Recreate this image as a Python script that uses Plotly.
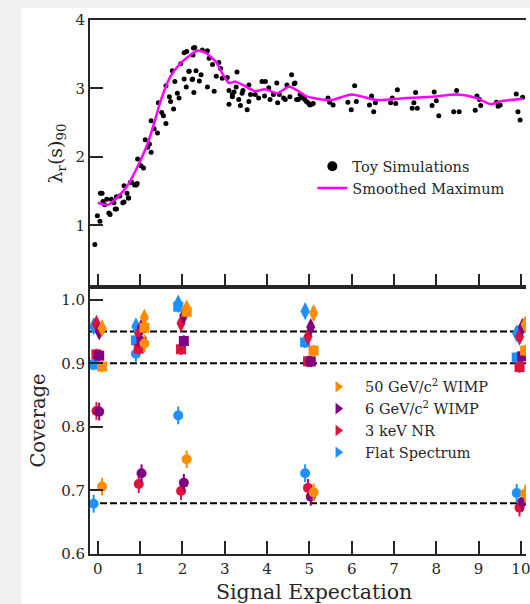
import plotly.graph_objects as go
from plotly.subplots import make_subplots

# ---------------- upper panel: toy simulations and smoothed maximum ----------------
toy_x = [
    -0.07, -0.01, 0.05, 0.10, 0.12, 0.16, 0.26, 0.32, 0.38, 0.44, 0.52, 0.59, 0.62, 0.69,
    0.73, 0.77, 0.87, 0.93, 0.94, 1.02, 1.08, 1.12, 1.18, 1.22, 1.26, 1.26, 1.33, 1.41,
    1.43, 1.51, 1.55, 1.61, 1.61, 1.69, 1.72, 1.76, 1.79, 1.82, 1.88, 1.92, 1.96, 2.04,
    2.09, 2.10, 2.15, 2.23, 2.27, 2.25, 2.29, 2.04, 2.16, 2.24, 2.26, 2.32, 2.40, 2.44,
    2.47, 2.59, 2.59, 2.63, 2.71, 2.75, 2.80, 2.86, 2.90, 2.94, 3.06, 3.10, 3.10, 3.18,
    3.22, 3.27, 3.29, 3.33, 3.37, 3.43, 3.53, 3.57, 3.61, 3.72, 3.80, 3.88, 3.18, 3.41,
    3.57, 3.94, 4.07, 4.15, 4.23, 4.25, 4.39, 4.43, 4.47, 4.54, 4.58, 4.66, 4.70, 4.78,
    4.86, 4.93, 3.96, 4.04, 4.29, 4.64, 4.74, 5.01, 5.09, 0.06, 0.21, 0.29, 0.41, 0.44,
    0.62, 0.72, 0.80, 0.91, 4.82, 4.89, 4.97, 5.05, 5.44, 5.48, 5.56, 5.91, 5.99, 6.07,
    6.11, 6.42, 6.47, 6.52, 6.56, 6.92, 6.96, 7.04, 7.08, 7.43, 7.47, 7.51, 7.55, 7.90,
    7.95, 8.00, 8.06, 8.41, 8.48, 8.54, 8.92, 8.96, 9.02, 9.05, 9.42, 9.46, 9.51, 9.89,
    9.93, 9.98, 10.04,
]
toy_y = [
    0.72, 1.14, 1.06, 1.47, 1.35, 1.30, 1.18, 1.38, 1.33, 1.24, 1.43, 1.33, 1.58, 1.47,
    1.40, 1.63, 1.59, 1.61, 1.97, 1.87, 1.84, 2.25, 2.14, 2.19, 2.07, 2.53, 2.41, 2.35,
    2.79, 2.65, 2.60, 2.49, 3.04, 2.88, 2.81, 3.26, 2.70, 3.10, 2.93, 2.86, 3.36, 3.14,
    3.02, 3.54, 3.25, 3.13, 2.94, 3.49, 3.60, 3.52, 3.25, 3.14, 3.59, 3.26, 3.11, 3.20,
    3.56, 3.55, 3.02, 3.44, 3.35, 2.96, 3.18, 3.38, 3.29, 3.15, 3.16, 2.97, 2.77, 2.91,
    2.95, 3.02, 3.24, 2.84, 2.75, 2.97, 2.69, 2.81, 2.91, 2.91, 2.86, 3.10, 2.88, 2.93,
    3.05, 2.89, 2.84, 2.91, 3.08, 2.79, 2.86, 2.84, 3.05, 2.88, 3.20, 3.08, 2.84, 2.91,
    2.86, 2.81, 3.10, 3.01, 2.91, 3.07, 2.84, 2.76, 2.78, 1.47, 1.38, 1.16, 1.24, 1.42,
    1.34, 1.40, 1.63, 1.59, 2.87, 2.84, 2.79, 2.77, 2.86, 2.80, 2.76, 2.80, 2.69, 3.04,
    2.81, 2.76, 2.89, 2.66, 2.79, 2.79, 2.86, 2.78, 2.98, 2.71, 2.79, 2.94, 2.71, 2.75,
    2.95, 2.82, 2.60, 2.66, 2.97, 2.66, 2.68, 2.89, 2.84, 2.75, 2.80, 2.74, 2.76, 2.92,
    2.66, 2.54, 2.87,
]

smooth_x = [0.0, 0.24, 0.48, 0.71, 0.94, 1.18, 1.33, 1.49, 1.72, 1.96, 2.19, 2.35, 2.55,
            2.79, 2.94, 3.10, 3.25, 3.49, 3.72, 3.95, 4.25, 4.52, 4.74, 4.95, 5.5, 6.0,
            6.6, 7.3, 7.9, 8.5, 8.95, 9.3, 9.5, 10.05]
smooth_y = [1.33, 1.30, 1.42, 1.59, 1.86, 2.20, 2.49, 2.83, 3.18, 3.37, 3.49, 3.555, 3.52,
            3.39, 3.22, 3.08, 3.10, 3.03, 2.96, 2.99, 2.93, 3.03, 2.96, 2.88, 2.83, 2.91,
            2.83, 2.86, 2.88, 2.91, 2.86, 2.77, 2.81, 2.85]

# ---------------- lower panel: coverage per spectrum ----------------
signal_expectation = [0, 1, 2, 5, 10]

flat_cov95 = [0.958, 0.958, 0.994, 0.982, 0.947]
flat_cov90 = [0.898, 0.936, 0.989, 0.933, 0.909]
flat_cov68 = [0.679, 0.915, 0.818, 0.727, 0.696]

nr3kev_cov95 = [0.962, 0.947, 0.963, 0.942, 0.942]
nr3kev_cov90 = [0.914, 0.923, 0.922, 0.903, 0.894]
nr3kev_cov68 = [0.825, 0.710, 0.699, 0.704, 0.673]

wimp6_cov95 = [0.950, 0.957, 0.975, 0.957, 0.957]
wimp6_cov90 = [0.912, 0.934, 0.935, 0.903, 0.911]
wimp6_cov68 = [0.824, 0.727, 0.712, 0.690, 0.682]

wimp50_cov95 = [0.955, 0.972, 0.986, 0.979, 0.961]
wimp50_cov90 = [0.895, 0.956, 0.981, 0.920, 0.920]
wimp50_cov68 = [0.706, 0.931, 0.749, 0.697, 0.695]

err95, err90, err68 = 0.007, 0.009, 0.014
target_levels = [0.95, 0.90, 0.68]

legend_names = ["50 GeV/c<sup>2</sup> WIMP", "6 GeV/c<sup>2</sup> WIMP", "3 keV NR", "Flat Spectrum"]

X_RANGE = [-0.185, 10.12]
FONT = "DejaVu Serif"
INK = "#262626"

fig = make_subplots(rows=2, cols=1, shared_xaxes=False, vertical_spacing=0.0)

# upper panel
fig.add_trace(go.Scatter(
    x=toy_x, y=toy_y, mode="markers", name="Toy Simulations", showlegend=False,
    marker=dict(color="black", size=5, line=dict(width=0))), row=1, col=1)
# legend entry with a larger dot than the data markers
fig.add_trace(go.Scatter(
    x=[None], y=[None], mode="markers", name="Toy Simulations",
    marker=dict(color="black", size=10, line=dict(width=0)),
    legend="legend", legendgroup="toy"), row=1, col=1)
fig.add_trace(go.Scatter(
    x=smooth_x, y=smooth_y, mode="lines", name="Smoothed Maximum",
    line=dict(color="#ff00ff", width=2.5, shape="spline", smoothing=0.6),
    legend="legend", legendgroup="smooth"), row=1, col=1)

# lower panel: drawn back to front so orange sits on top
series = [
    ("#1e90ff", -0.1, flat_cov95, flat_cov90, flat_cov68),
    ("#dc143c", -0.033, nr3kev_cov95, nr3kev_cov90, nr3kev_cov68),
    ("#800080", 0.033, wimp6_cov95, wimp6_cov90, wimp6_cov68),
    ("#ff8c00", 0.1, wimp50_cov95, wimp50_cov90, wimp50_cov68),
]
for color, dx, c95, c90, c68 in series:
    xs = [s + dx for s in signal_expectation]
    for vals, sym, size, err in [(c68, "circle", 10, err68),
                                 (c90, "square", 10, err90),
                                 (c95, "diamond-tall", 13, err95)]:
        fig.add_trace(go.Scatter(
            x=xs, y=vals, mode="markers", showlegend=False,
            marker=dict(color=color, symbol=sym, size=size, line=dict(width=0)),
            error_y=dict(type="constant", value=err, color=color, thickness=2, width=0),
        ), row=2, col=1)

legend_colors = ["#ff8c00", "#800080", "#dc143c", "#1e90ff"]
for name, color in zip(legend_names, legend_colors):
    fig.add_trace(go.Scatter(
        x=[None], y=[None], mode="markers", name=name,
        marker=dict(color=color, symbol="triangle-right", size=10),
        legend="legend2", legendgroup=name), row=2, col=1)

# reference coverage levels
for lvl in target_levels:
    fig.add_shape(type="line", xref="x2", yref="y2", x0=X_RANGE[0], x1=X_RANGE[1],
                  y0=lvl, y1=lvl, layer="below",
                  line=dict(color="black", width=2, dash="7px,3px"))

# white figure card on the grey page
fig.add_shape(type="rect", xref="paper", yref="paper",
              x0=(21 - 90) / 440, x1=1.05, y0=-50 / 534 - 0.01, y1=1 + 12 / 534,
              fillcolor="white", line=dict(width=0), layer="below")

# x-axis title, centred on the full (wider) axes box
fig.add_annotation(text="Signal Expectation", xref="paper", yref="paper",
                   x=0.514, y=-0.072, xanchor="center", yanchor="middle",
                   showarrow=False, font=dict(family=FONT, size=20.5, color=INK))

axis_common = dict(showline=True, linecolor=INK, linewidth=2, ticks="inside",
                   ticklen=13, tickwidth=2, tickcolor=INK, showgrid=False,
                   zeroline=False, tickfont=dict(family=FONT, size=15, color=INK))

fig.update_xaxes(range=X_RANGE, dtick=1, tick0=0, mirror=True,
                 ticklabeloverflow="allow", **axis_common)
fig.update_xaxes(showticklabels=False, row=1, col=1)
fig.update_yaxes(mirror=False, **axis_common)
fig.update_yaxes(range=[0.1, 4.0], tickvals=[1, 2, 3, 4],
                 title=dict(text="λ<sub>r</sub>(s)<sub>90</sub>", standoff=8,
                            font=dict(family=FONT, size=19, color=INK)), row=1, col=1)
fig.update_yaxes(range=[0.6, 1.02], tickvals=[0.6, 0.7, 0.8, 0.9, 1.0],
                 tickformat=".1f",
                 title=dict(text="Coverage", standoff=10,
                            font=dict(family=FONT, size=19.5, color=INK)), row=2, col=1)

fig.update_layout(
    width=530, height=604,
    margin=dict(l=90, r=0, t=20, b=50),
    paper_bgcolor="#f0f0f0", plot_bgcolor="white",
    font=dict(family=FONT, color=INK),
    legend=dict(x=0.51, y=0.756, xanchor="left", yanchor="top", itemwidth=30,
                bgcolor="rgba(0,0,0,0)", font=dict(family=FONT, size=14.5, color=INK),
                traceorder="grouped", tracegroupgap=0),
    legend2=dict(x=0.507, y=0.343, xanchor="left", yanchor="top", itemwidth=44,
                 bgcolor="rgba(0,0,0,0)", font=dict(family=FONT, size=14.5, color=INK),
                 traceorder="grouped", tracegroupgap=0),
)
fig.layout.yaxis.domain = [0.5, 1.0]
fig.layout.yaxis2.domain = [0.0, 0.5]

fig.write_html("out.html")
